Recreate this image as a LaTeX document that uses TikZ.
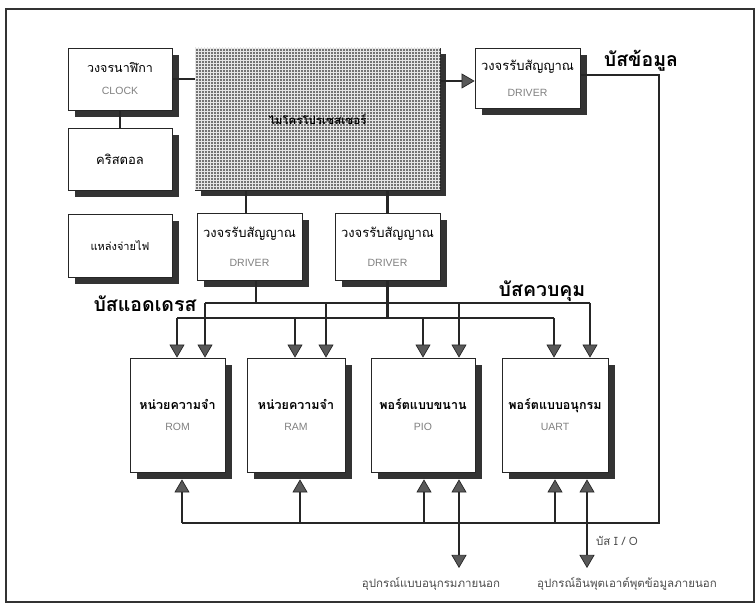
\documentclass[tikz,border=0pt]{standalone}
\usepackage{fontspec}
\setmainfont{Liberation Sans}
\newfontfamily\thai[Script=Thai]{Loma}
\usetikzlibrary{arrows.meta,shadows,patterns}
\newcommand\twoline[4]{{\thai\fontsize{#1}{#1}\selectfont #3}\\[#2]{\color{black!50}\fontsize{10.5}{12}\selectfont #4}}
\newcommand\modline[2]{{\thai\bfseries\fontsize{12.5}{14}\selectfont #1}\\[9pt]{\color{black!50}\fontsize{10.5}{12}\selectfont #2}}
\begin{document}
\begin{tikzpicture}[x=1pt,y=-1pt,
  blk/.style={draw=black!85, line width=0.8pt, fill=white, align=center, inner sep=0pt,
    drop shadow={shadow xshift=7pt, shadow yshift=-7pt, fill=black!80, opacity=1}},
  cpubox/.style={draw=black!85, line width=0.8pt, fill=black!55, align=center, inner sep=0pt,
    postaction={pattern=grid, pattern color=white!90!black},
    drop shadow={shadow xshift=6pt, shadow yshift=-6pt, fill=black!80, opacity=1}},
  ln/.style={line width=2.2pt, draw=black!85},
  tip/.tip={Triangle[width=15pt,length=13pt,fill=black!65,line width=0.7pt]},
  arr/.style={-tip},
  arrtwo/.style={tip-tip},
  buslbl/.style={font=\thai\bfseries\fontsize{19.5}{21}\selectfont, inner sep=0pt},
  small/.style={font=\thai\fontsize{11.5}{13}\selectfont, text=black!70, inner sep=0pt}
]
\useasboundingbox (0,0) rectangle (756,609);
\draw[line width=1.2pt, black!80] (6,9) rectangle (754,602);

% blocks
\node[blk, minimum width=104pt, minimum height=62pt] (clock) at (120,79) {\twoline{12.5}{10pt}{วงจรนาฬิกา}{CLOCK}};
\node[blk, minimum width=104pt, minimum height=62pt] (xtal) at (120,159) {{\thai\fontsize{13}{14}\selectfont คริสตอล}};
\node[blk, minimum width=104pt, minimum height=63pt] (power) at (120,246) {{\thai\fontsize{11}{13}\selectfont แหล่งจ่ายไฟ}};
\node[cpubox, minimum width=245pt, minimum height=142pt] (cpu) at (317.5,119) {{\thai\bfseries\fontsize{11.5}{13}\selectfont ไมโครโปรเซสเซอร์}};
\node[blk, minimum width=105pt, minimum height=67pt] (drv1) at (249.5,246.5) {\twoline{13}{17pt}{วงจรรับสัญญาณ}{DRIVER}};
\node[blk, minimum width=105pt, minimum height=67pt] (drv2) at (387.5,246.5) {\twoline{13}{17pt}{วงจรรับสัญญาณ}{DRIVER}};
\node[blk, minimum width=105pt, minimum height=60pt] (drv3) at (527.5,78) {\twoline{13}{14pt}{วงจรรับสัญญาณ}{DRIVER}};
\node[blk, minimum width=95pt, minimum height=114pt] (rom) at (177.5,415) {\modline{หน่วยความจำ}{ROM}};
\node[blk, minimum width=98pt, minimum height=114pt] (ram) at (296,415) {\modline{หน่วยความจำ}{RAM}};
\node[blk, minimum width=104pt, minimum height=114pt] (pio) at (423,415) {\modline{พอร์ตแบบขนาน}{PIO}};
\node[blk, minimum width=106pt, minimum height=114pt] (uart) at (555,415) {\modline{พอร์ตแบบอนุกรม}{UART}};

% top connections
\draw[ln] (clock.east) -- (cpu.west |- clock.east);
\draw[ln] (clock.south) -- (xtal.north);
\draw[ln] ([xshift=-3.5pt]drv1.north) -- ([xshift=-3.5pt]drv1.north |- cpu.south);
\draw[ln] (drv2.north) -- (drv2.north |- cpu.south);
\coordinate (a3) at ([yshift=-3pt]drv3.west);
\draw[ln, arr] (cpu.east |- a3) -- (a3);

% bus coordinates
\coordinate (ubL) at (205,303);
\coordinate (ubR) at (590,303);
\coordinate (lbL) at (177,318);
\coordinate (lbR) at (554,318);
\coordinate (dbR) at (659,523);
\coordinate (dbL) at (182,523);
\coordinate (d3) at ([yshift=3pt]drv3.east);
\coordinate (d1) at ([xshift=6.5pt]drv1.south);

% data bus
\draw[ln] (d3) -| (dbR) -- (dbL);

% address / control buses
\draw[ln] (d1) -- (d1 |- ubL);
\draw[ln] (drv2.south) -- (drv2.south |- lbL);
\draw[ln] (ubL) -- (ubR);
\draw[ln] (lbL) -- (lbR);
\foreach \x/\m in {177/rom, 295/ram, 423/pio, 554/uart}{
  \coordinate (t) at (\x,318);
  \draw[ln, arr] (t) -- (t |- \m.north);
}
\foreach \x/\m in {205/rom, 326/ram, 459/pio, 590/uart}{
  \coordinate (t) at (\x,303);
  \draw[ln, arr] (t) -- (t |- \m.north);
}
% bottom bus taps
\foreach \x/\m in {182/rom, 300/ram, 424/pio, 555/uart}{
  \coordinate (t) at (\x,523);
  \coordinate (b) at (t |- \m.south);
  \draw[ln, arr] (t) -- ([yshift=-7pt]b);
}
\foreach \x/\m in {459/pio, 587/uart}{
  \coordinate (t) at (\x,568);
  \coordinate (b) at (t |- \m.south);
  \draw[ln, arrtwo] (t) -- ([yshift=-7pt]b);
}

% labels
\node[buslbl] (lbldata) at (641,61) {บัสข้อมูล};
\node[buslbl] (lbladdr) at (145,304) {บัสแอดเดรส};
\node[buslbl] (lblctrl) at (542,291) {บัสควบคุม};
\node[small] (lblio) at (617,541) {บัส I / O};
\node[small] (lblext1) at (431,584) {อุปกรณ์แบบอนุกรมภายนอก};
\node[small] (lblext2) at (627,584) {อุปกรณ์อินพุตเอาต์พุตข้อมูลภายนอก};
\end{tikzpicture}
\end{document}
